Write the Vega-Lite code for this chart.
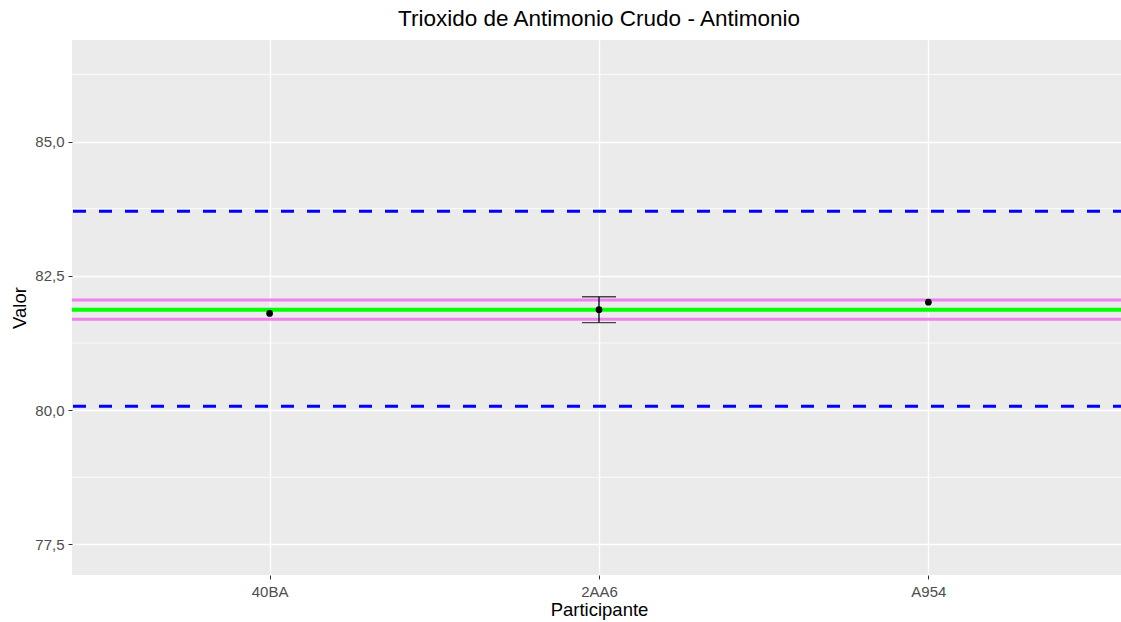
{
  "$schema": "https://vega.github.io/schema/vega-lite/v6.json",
  "width": 1054,
  "height": 535,
  "autosize": {"type": "none"},
  "padding": {"left": 72, "top": 40, "right": 0, "bottom": 47},
  "background": "white",
  "title": {"text": "Trioxido de Antimonio Crudo - Antimonio", "font": "Liberation Sans", "fontSize": 22.5, "fontWeight": "normal", "color": "black", "anchor": "middle", "offset": 10},
  "config": {
    "view": {"fill": "#EBEBEB", "stroke": null},
    "axis": {"labelFont": "Liberation Sans", "titleFont": "Liberation Sans", "labelFontSize": 15, "labelColor": "#4D4D4D", "titleFontSize": 18.5, "titleFontWeight": "normal", "titleColor": "black", "tickColor": "#333333", "tickSize": 4, "labelPadding": 4, "domain": false, "gridColor": "white"}
  },
  "datasets": {
    "pts": [
      {"Participante": "40BA", "Valor": 81.80},
      {"Participante": "2AA6", "Valor": 81.87, "lo": 81.63, "hi": 82.11},
      {"Participante": "A954", "Valor": 82.01}
    ],
    "minor": [{"v": 78.75}, {"v": 81.25}, {"v": 83.75}, {"v": 86.25}],
    "refs": [
      {"v": 83.70, "tipo": "lim"},
      {"v": 80.07, "tipo": "lim"},
      {"v": 82.05, "tipo": "inc"},
      {"v": 81.69, "tipo": "inc"},
      {"v": 81.87, "tipo": "ref"}
    ]
  },
  "layer": [
    {
      "data": {"name": "minor"},
      "mark": {"type": "rule", "color": "white", "strokeWidth": 0.8},
      "encoding": {"y": {"field": "v", "type": "quantitative", "scale": {"domain": [76.93, 86.89], "nice": false, "zero": false}}}
    },
    {
      "data": {"name": "refs"},
      "transform": [{"filter": "datum.tipo === 'lim'"}],
      "mark": {"type": "rule", "color": "#0000FF", "strokeWidth": 3, "strokeDash": [13, 13]},
      "encoding": {"y": {"field": "v", "type": "quantitative"}}
    },
    {
      "data": {"name": "refs"},
      "transform": [{"filter": "datum.tipo === 'inc'"}],
      "mark": {"type": "rule", "color": "#EE82EE", "strokeWidth": 3},
      "encoding": {"y": {"field": "v", "type": "quantitative"}}
    },
    {
      "data": {"name": "refs"},
      "transform": [{"filter": "datum.tipo === 'ref'"}],
      "mark": {"type": "rule", "color": "#00FF00", "strokeWidth": 4},
      "encoding": {"y": {"field": "v", "type": "quantitative"}}
    },
    {
      "data": {"name": "pts"},
      "transform": [{"filter": "isValid(datum.lo)"}],
      "mark": {"type": "rule", "color": "black", "strokeWidth": 1.3},
      "encoding": {
        "x": {"field": "Participante", "type": "nominal", "sort": ["40BA", "2AA6", "A954"], "scale": {"type": "point", "padding": 0.6, "domain": ["40BA", "2AA6", "A954"]}},
        "y": {"field": "lo", "type": "quantitative"},
        "y2": {"field": "hi"}
      }
    },
    {
      "data": {"name": "pts"},
      "transform": [{"filter": "isValid(datum.lo)"}, {"fold": ["lo", "hi"], "as": ["k", "cap"]}],
      "mark": {"type": "tick", "orient": "horizontal", "color": "black", "size": 34, "thickness": 1.3},
      "encoding": {
        "x": {"field": "Participante", "type": "nominal", "sort": ["40BA", "2AA6", "A954"]},
        "y": {"field": "cap", "type": "quantitative"}
      }
    },
    {
      "data": {"name": "pts"},
      "mark": {"type": "point", "filled": true, "color": "black", "size": 45, "opacity": 1},
      "encoding": {
        "x": {"field": "Participante", "type": "nominal", "sort": ["40BA", "2AA6", "A954"], "axis": {"labelAngle": 0, "labelAlign": "center", "labelBaseline": "top", "labelPadding": 5, "grid": true, "gridWidth": 1.3, "title": "Participante", "titlePadding": 1, "titleX": 527}},
        "y": {"field": "Valor", "type": "quantitative", "axis": {"values": [77.5, 80, 82.5, 85], "format": ".1f", "labelExpr": "replace(datum.label, '.', ',')", "grid": true, "gridWidth": 1.5, "title": "Valor", "titlePadding": 5}}
      }
    }
  ]
}
